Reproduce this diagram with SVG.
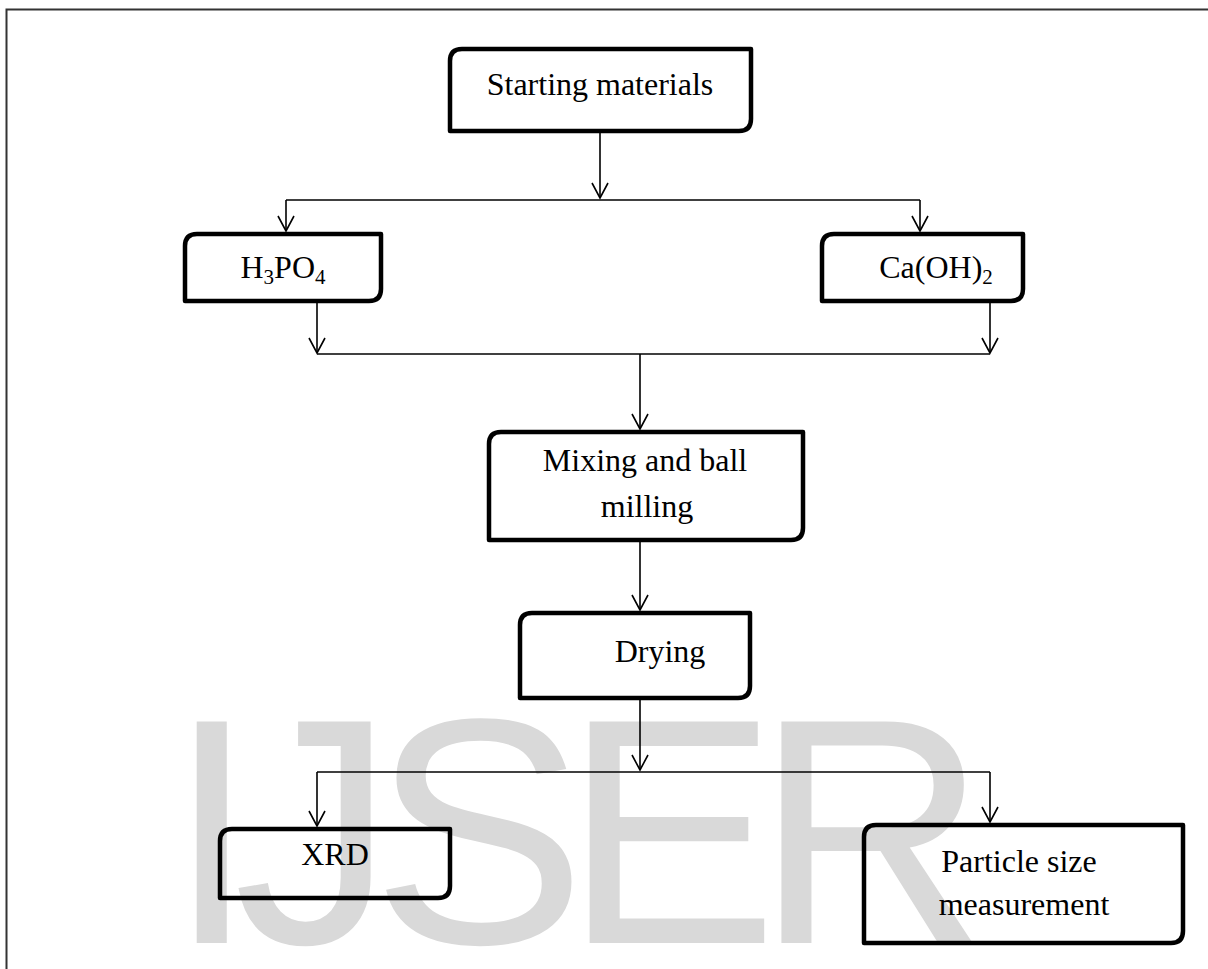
<svg xmlns="http://www.w3.org/2000/svg" width="1208" height="969" viewBox="0 0 1208 969">
<defs>
<marker id="arr" markerUnits="userSpaceOnUse" markerWidth="20" markerHeight="20" refX="15" refY="8" orient="auto" overflow="visible">
<path d="M0,0 L15,8 L0,16" fill="none" stroke="#000" stroke-width="1.6"/>
</marker>
</defs>
<style>
.box{fill:none;stroke:#000;stroke-width:4.5;stroke-linejoin:round}
.t{font-family:"Liberation Serif","Times New Roman",serif;font-size:32px;fill:#000;text-anchor:middle}
.c{fill:none;stroke:#000;stroke-width:1.6}
.wm{font-family:"Liberation Sans",Arial,sans-serif;font-size:322px;fill:#d9d9d9;letter-spacing:-23px}
</style>
<rect x="6.5" y="9.5" width="1300" height="1100" fill="none" stroke="#333" stroke-width="2"/>
<text class="wm" x="167" y="943">IJSER</text>

<g id="connectors">
<path class="c" d="M600,133 V198" marker-end="url(#arr)"/>
<path class="c" d="M286,200 H920"/>
<path class="c" d="M286,200 V231" marker-end="url(#arr)"/>
<path class="c" d="M920,200 V231" marker-end="url(#arr)"/>
<path class="c" d="M317,303 V353" marker-end="url(#arr)"/>
<path class="c" d="M990,303 V353" marker-end="url(#arr)"/>
<path class="c" d="M317,354 H990"/>
<path class="c" d="M640,354 V429" marker-end="url(#arr)"/>
<path class="c" d="M640,542 V610" marker-end="url(#arr)"/>
<path class="c" d="M640,700 V770" marker-end="url(#arr)"/>
<path class="c" d="M317,772 H990"/>
<path class="c" d="M317,772 V826" marker-end="url(#arr)"/>
<path class="c" d="M990,772 V822" marker-end="url(#arr)"/>
</g>

<g id="start">
<path class="box" d="M450,61 Q450,49 462,49 H751 V119 Q751,131 739,131 H450 Z"/>
<text class="t" x="600" y="95">Starting materials</text>
</g>
<g id="h3po4">
<path class="box" d="M185,246 Q185,234 197,234 H381 V289 Q381,301 369,301 H185 Z"/>
<text class="t" x="283" y="278">H<tspan font-size="21" dy="6">3</tspan><tspan dy="-6">PO</tspan><tspan font-size="21" dy="6">4</tspan></text>
</g>
<g id="caoh2">
<path class="box" d="M822,246 Q822,234 834,234 H1023 V289 Q1023,301 1011,301 H822 Z"/>
<text class="t" x="936" y="278">Ca(OH)<tspan font-size="21" dy="6">2</tspan></text>
</g>
<g id="mixing">
<path class="box" d="M489,444 Q489,432 501,432 H803 V528 Q803,540 791,540 H489 Z"/>
<text class="t" x="645" y="471">Mixing and ball</text>
<text class="t" x="647" y="517">milling</text>
</g>
<g id="drying">
<path class="box" d="M520,625 Q520,613 532,613 H750 V686 Q750,698 738,698 H520 Z"/>
<text class="t" x="660" y="662">Drying</text>
</g>
<g id="xrd">
<path class="box" d="M220,841 Q220,829 232,829 H450 V886 Q450,898 438,898 H220 Z"/>
<text class="t" x="335" y="865">XRD</text>
</g>
<g id="particle">
<path class="box" d="M864,837 Q864,825 876,825 H1183 V931 Q1183,943 1171,943 H864 Z"/>
<text class="t" x="1019" y="872">Particle size</text>
<text class="t" x="1024" y="915">measurement</text>
</g>
</svg>
